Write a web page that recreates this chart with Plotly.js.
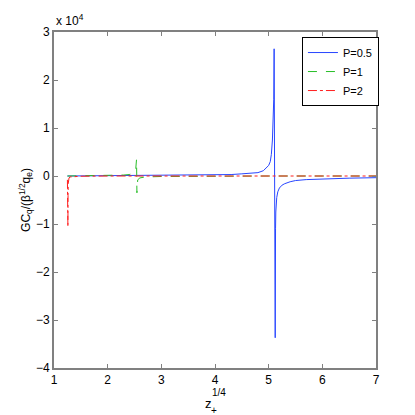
<!DOCTYPE html>
<html>
<head>
<meta charset="utf-8">
<script src="https://cdn.plot.ly/plotly-3.0.1.min.js"></script>
<style>html,body{margin:0;padding:0;background:#fff;}#chart{width:415px;height:415px;}</style>
</head>
<body>
<div id="chart"></div>
<script>
// P = 0.5
const xBlue = [1.25, 1.5, 2.0, 2.5, 3.0, 3.5, 4.0, 4.3, 4.5, 4.7, 4.8, 4.9, 5.0, 5.03, 5.05, 5.07, 5.085, 5.095, 5.102, 5.122, 5.125, 5.128, 5.133, 5.14, 5.15, 5.17, 5.2, 5.25, 5.3, 5.4, 5.5, 5.7, 6.0, 6.5, 7.0];
const yBlue = [0, 20, 40, 60, 90, 130, 200, 300, 450, 600, 700, 1100, 2200, 3000, 4500, 7500, 11000, 16000, 26500, -33700, -18000, -11000, -7500, -6000, -4500, -3300, -2500, -1900, -1600, -1200, -950, -750, -600, -450, -350];
// P = 1
const xGreen = [1.25, 1.5, 2.0, 2.3, 2.4, 2.45, 2.5, 2.52, 2.53, 2.538, 2.545, 2.55, 2.56, 2.6, 2.7, 3.0, 3.5, 4.0, 5.0, 6.0, 7.0];
const yGreen = [0, 30, 100, 200, 300, 400, 600, 1000, 1800, 3500, -3500, -1500, -800, -400, -200, -100, -50, 0, 0, 0, 0];
// P = 2
const xRed = [1.25, 1.253, 1.256, 1.259, 1.262, 1.266, 1.27, 1.28, 1.3, 1.5, 2.0, 3.0, 4.0, 5.0, 6.0, 7.0];
const yRed = [-800, -3000, -6000, -10600, -4000, -1500, -800, -400, -200, -50, 0, 0, 0, 0, 0, 0];

const names = ['P=0.5', 'P=1', 'P=2'];
const yTickVals = [-40000, -30000, -20000, -10000, 0, 10000, 20000, 30000];
const yTickText = ['\u22124', '\u22123', '\u22122', '\u22121', '0', '1', '2', '3'];
const xTickVals = [1, 2, 3, 4, 5, 6, 7];

const FONT = 'Liberation Sans, Arial, Helvetica, sans-serif';
const axisColor = '#808080';

const traces = [
  {x: xBlue, y: yBlue, name: names[0], mode: 'lines', line: {color: 'rgb(40,70,255)', width: 1, dash: 'solid'}},
  {x: xGreen, y: yGreen, name: names[1], mode: 'lines', line: {color: 'rgb(40,190,40)', width: 1, dash: 'dash'}},
  {x: xRed, y: yRed, name: names[2], mode: 'lines', line: {color: 'rgb(255,30,30)', width: 1, dash: 'dashdot'}}
];

const layout = {
  width: 415, height: 415,
  margin: {l: 54, r: 39, t: 32, b: 47},
  paper_bgcolor: '#fff', plot_bgcolor: '#fff',
  font: {family: FONT, size: 12, color: '#000'},
  showlegend: true,
  legend: {x: 0.77, y: 0.985, xanchor: 'left', yanchor: 'top', bgcolor: '#fff', bordercolor: '#000', borderwidth: 1, font: {size: 11}, itemwidth: 30, tracegroupgap: 0},
  xaxis: {
    range: [1, 7], tickvals: xTickVals, showgrid: false, zeroline: false,
    showline: true, linecolor: axisColor, linewidth: 2, mirror: 'ticks',
    ticks: 'inside', ticklen: 4, tickcolor: axisColor, tickwidth: 1,
    tickfont: {size: 12, family: FONT}
  },
  yaxis: {
    range: [-40000, 30000], tickvals: yTickVals, ticktext: yTickText, showgrid: false, zeroline: false,
    showline: true, linecolor: axisColor, linewidth: 2, mirror: 'ticks',
    ticks: 'inside', ticklen: 4, tickcolor: axisColor, tickwidth: 1,
    tickfont: {size: 12, family: FONT},
    title: {text: 'GC<sub>q</sub>/(\u03b2<sup>1/2</sup>q<sub>e</sub>)', font: {size: 12, family: FONT}, standoff: 3}
  },
  annotations: [
    {xref: 'paper', yref: 'paper', x: 0, y: 1, xanchor: 'left', yanchor: 'bottom', yshift: 2, showarrow: false,
     text: 'x 10<sup>4</sup>', font: {size: 12, family: FONT}},
    {xref: 'paper', yref: 'paper', x: 0.4795, y: 0, xanchor: 'center', yanchor: 'middle', yshift: -35, showarrow: false,
     text: 'z', font: {size: 13, family: FONT}},
    {xref: 'paper', yref: 'paper', x: 0.5125, y: 0, xanchor: 'center', yanchor: 'middle', yshift: -24, showarrow: false,
     text: '1/4', font: {size: 10, family: FONT}},
    {xref: 'paper', yref: 'paper', x: 0.4955, y: 0, xanchor: 'center', yanchor: 'middle', yshift: -42, showarrow: false,
     text: '+', font: {size: 10, family: FONT}}
  ]
};

Plotly.newPlot('chart', traces, layout, {displayModeBar: false, staticPlot: true});
</script>
</body>
</html>
